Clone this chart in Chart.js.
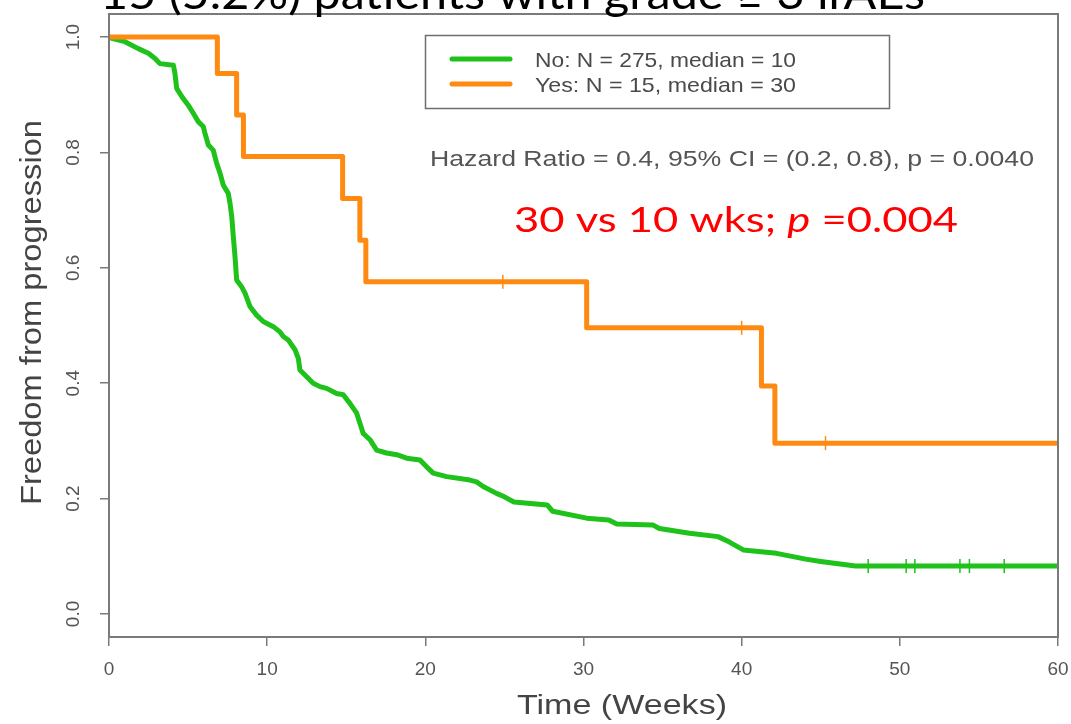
<!DOCTYPE html>
<html><head><meta charset="utf-8">
<script src="https://cdn.jsdelivr.net/npm/chart.js@4.4.1/dist/chart.umd.min.js"></script>
<style>html,body{margin:0;padding:0;background:#fff;overflow:hidden}#wrap{width:1071px;height:724px;position:relative}</style>
</head><body><div id="wrap"><canvas id="c" width="1071" height="724"></canvas></div>
<script>
// ---- data ----
const noTimes = [0,0.17,1.01,1.85,2.49,2.91,3.22,4.07,4.17,4.28,4.6,5.01,5.33,5.65,5.96,6.07,6.28,6.59,6.81,7.02,7.23,7.54,7.65,7.76,7.86,7.96,8.07,8.39,8.6,8.91,9.33,9.75,10.39,10.81,11.02,11.33,11.76,11.97,12.07,12.5,12.91,13.34,13.76,14.39,14.81,15.23,15.66,15.87,16.07,16.5,16.92,17.55,18.19,18.82,19.66,20.08,20.5,21.35,22.82,23.24,23.66,24.5,25.0,25.6,27.7,28.05,30.2,31.6,32.1,34.4,34.8,36.7,38.5,39.2,40.1,42.2,44.05,45.0,47.2,60];
const noSurv  = [1.0,0.998,0.992,0.980,0.972,0.963,0.954,0.951,0.937,0.911,0.897,0.882,0.868,0.853,0.845,0.833,0.813,0.804,0.781,0.764,0.743,0.729,0.712,0.689,0.654,0.622,0.579,0.567,0.556,0.533,0.518,0.507,0.498,0.489,0.481,0.475,0.458,0.443,0.423,0.411,0.400,0.394,0.391,0.382,0.380,0.365,0.348,0.330,0.313,0.302,0.284,0.279,0.276,0.270,0.267,0.255,0.244,0.238,0.232,0.229,0.221,0.209,0.203,0.194,0.189,0.178,0.166,0.163,0.156,0.154,0.148,0.140,0.134,0.125,0.111,0.105,0.095,0.091,0.083,0.083];
const yesTimes = [0,6.85,8.07,8.5,14.77,15.86,16.24,30.2,41.25,42.1,60];
const yesSurv  = [1.0,0.937,0.865,0.793,0.720,0.648,0.576,0.496,0.395,0.296,0.296];
const noCensorTimes  = [48.0,50.4,50.95,53.8,54.4,56.6];
const yesCensorTimes = [24.9,40.0,45.3];
const xTickValues = [0,10,20,30,40,50,60];
const yTickValues = [0,0.2,0.4,0.6,0.8,1.0];
const seriesLabels = ['No: N = 275, median = 10','Yes: N = 15, median = 30'];
const hazardText = 'Hazard Ratio = 0.4, 95% CI = (0.2, 0.8), p = 0.0040';
const titleText = '15 (5.2%) patients with grade \u2265 3 irAEs';
const xTitle = 'Time (Weeks)';
const yTitle = 'Freedom from progression';
const redParts = ['30 vs 10 wks; ','p',' =0.004'];

const GREEN = '#1fc21a', ORANGE = '#ff8a12', AXIS = '#7a7a7a', TXT = '#4a4a4a';

function survAt(times, surv, t){ let s = surv[0]; for (let i=0;i<times.length;i++){ if (times[i] <= t) s = surv[i]; } return s; }
function pts(times, vals){ return times.map((t,i)=>({x:t,y:vals[i]})); }

function fitText(ctx, text, x, y, w, font, color){
  ctx.save(); ctx.font = font; ctx.fillStyle = color; ctx.textBaseline = 'alphabetic'; ctx.textAlign='left';
  const m = ctx.measureText(text).width; ctx.translate(x, y); ctx.scale(w/m, 1); ctx.fillText(text, 0, 0); ctx.restore();
}

const decor = {
  id: 'decor',
  afterDatasetsDraw(chart){
    const {ctx, chartArea: a} = chart;
    ctx.save();
    ctx.strokeStyle = AXIS; ctx.lineWidth = 2;
    ctx.strokeRect(a.left, a.top, a.right - a.left, a.bottom - a.top);
    ctx.restore();
  },
  afterDraw(chart){
    const {ctx} = chart;
    ctx.save();
    ctx.strokeStyle = '#6e6e6e'; ctx.lineWidth = 1.5;
    ctx.strokeRect(425.5, 35.5, 464, 73);
    const ds = chart.data.datasets;
    [[ds[0], 59], [ds[1], 84]].forEach(([d, y]) => {
      ctx.strokeStyle = d.borderColor; ctx.lineWidth = 5; ctx.lineCap = 'round';
      ctx.beginPath(); ctx.moveTo(452, y); ctx.lineTo(510, y); ctx.stroke();
      fitText(ctx, d.label, 535, y + 7.5, 261, '21px "Liberation Sans", Arial, sans-serif', TXT);
    });
    ctx.restore();
    fitText(ctx, hazardText, 430, 166, 604, '22px "Liberation Sans", Arial, sans-serif', '#555555');
    ctx.save();
    const fonts = ['34px Lato, "Open Sans", sans-serif', 'italic 34px Lato, "Open Sans", sans-serif', '34px Lato, "Open Sans", sans-serif'];
    let tot = 0; const ws = redParts.map((p,i)=>{ ctx.font = fonts[i]; const w = ctx.measureText(p).width; tot += w; return w; });
    const k = 444 / tot; let x = 514;
    ctx.fillStyle = '#ff0000'; ctx.textBaseline = 'alphabetic';
    redParts.forEach((p,i)=>{ ctx.save(); ctx.font = fonts[i]; ctx.translate(x, 232); ctx.scale(k,1); ctx.fillText(p,0,0); ctx.restore(); x += ws[i]*k; });
    ctx.restore();
    fitText(ctx, titleText, 100, 9, 825, '44px Lato, "Open Sans", sans-serif', '#000000');
    fitText(ctx, xTitle, 517, 714, 210, '28px "Liberation Sans", Arial, sans-serif', '#444444');
    ctx.save(); ctx.translate(41, 505); ctx.rotate(-Math.PI/2);
    fitText(ctx, yTitle, 0, 0, 385, '30px "Liberation Sans", Arial, sans-serif', '#444444');
    ctx.restore();
  }
};

new Chart(document.getElementById('c'), {
  type: 'line',
  data: {
    datasets: [
      {label: seriesLabels[0], data: pts(noTimes, noSurv), borderColor: GREEN, borderWidth: 5, stepped: false, tension: 0, pointRadius: 0, fill: false, borderJoinStyle: 'round', borderCapStyle: 'round', order: 2},
      {label: seriesLabels[1], data: pts(yesTimes, yesSurv), borderColor: ORANGE, borderWidth: 5, stepped: true, pointRadius: 0, fill: false, borderJoinStyle: 'round', order: 1},
      {label: 'No censored', data: noCensorTimes.map(t=>({x:t, y:survAt(noTimes, noSurv, t)})), showLine: false, pointStyle: 'line', rotation: 90, pointRadius: 7, borderColor: GREEN, borderWidth: 1.5, order: 0},
      {label: 'Yes censored', data: yesCensorTimes.map(t=>({x:t, y:survAt(yesTimes, yesSurv, t)})), showLine: false, pointStyle: 'line', rotation: 90, pointRadius: 7, borderColor: ORANGE, borderWidth: 1.5, order: 0}
    ]
  },
  options: {
    responsive: false, animation: false, devicePixelRatio: 1,
    layout: {padding: {top: 14, right: 13, left: 0, bottom: 0}},
    plugins: {legend: {display: false}, tooltip: {enabled: false}, title: {display: false}},
    scales: {
      x: {
        type: 'linear', min: 0, max: 60,
        afterBuildTicks: s => { s.ticks = xTickValues.map(v=>({value:v})); },
        afterFit: s => { s.height = 87; s.paddingLeft = 0; s.paddingRight = 0; s.paddingTop = 0; s.paddingBottom = 0; },
        grid: {drawOnChartArea: false, drawTicks: true, tickLength: 9, color: AXIS, lineWidth: 1.5},
        border: {display: true, color: AXIS, width: 2},
        ticks: {color: '#555', padding: 12, maxRotation: 0, font: {family: '"Liberation Sans", Arial, sans-serif', size: 19}}
      },
      y: {
        type: 'linear', min: -0.04, max: 1.04,
        afterBuildTicks: s => { s.ticks = yTickValues.map(v=>({value:v})); },
        afterFit: s => { s.width = 109; s.paddingLeft = 0; s.paddingRight = 0; s.paddingTop = 0; s.paddingBottom = 0; },
        grid: {drawOnChartArea: false, drawTicks: true, tickLength: 9, color: AXIS, lineWidth: 1.5},
        border: {display: true, color: AXIS, width: 2},
        ticks: {color: '#555', padding: 13, minRotation: 90, maxRotation: 90, crossAlign: 'center',
          callback: v => Number(v).toFixed(1),
          font: {family: '"Liberation Sans", Arial, sans-serif', size: 19}}
      }
    }
  },
  plugins: [decor]
});
</script></body></html>
